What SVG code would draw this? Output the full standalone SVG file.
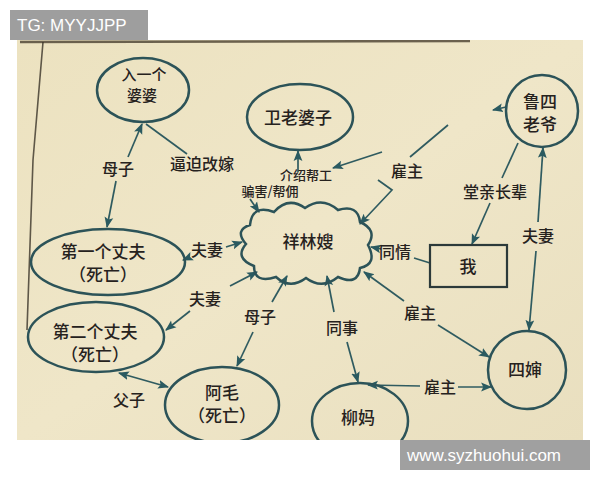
<svg xmlns="http://www.w3.org/2000/svg" width="600" height="480" viewBox="0 0 600 480">
<defs>
<linearGradient id="paper" x1="0" y1="0" x2="1" y2="1">
<stop offset="0" stop-color="#ece2c0"/>
<stop offset="0.5" stop-color="#efe6c8"/>
<stop offset="1" stop-color="#e9dfbf"/>
</linearGradient>
<clipPath id="photo"><rect x="17" y="40" width="566" height="400"/></clipPath>
<marker id="a" viewBox="0 0 10 10" refX="9" refY="5" markerWidth="11" markerHeight="11" markerUnits="userSpaceOnUse" orient="auto-start-reverse">
<path d="M0,1 L10,5 L0,9 L2,5 z" fill="#2a5a60"/>
</marker>
</defs>
<style>
.n{fill:none;stroke:#2c5358;stroke-width:2.5}
.c{fill:none;stroke:#2f5b60;stroke-width:1.7}
.t{font-family:"Noto Sans CJK SC","Noto Sans CJK JP",sans-serif;font-size:17px;font-weight:500;fill:#26221e;text-anchor:middle}
.l{font-family:"Noto Sans CJK SC","Noto Sans CJK JP",sans-serif;font-size:16px;font-weight:500;fill:#26221e;text-anchor:middle}
.s{font-family:"Noto Sans CJK SC","Noto Sans CJK JP",sans-serif;font-size:13px;font-weight:500;fill:#26221e;text-anchor:middle}
.wm{font-family:"Liberation Sans",Arial,sans-serif;font-size:17px;fill:#ffffff}
</style>
<rect x="0" y="0" width="600" height="480" fill="#ffffff"/>
<rect x="17" y="40" width="566" height="400" fill="url(#paper)"/>
<g clip-path="url(#photo)">
<path d="M20,42 L470,41" stroke="#4a4030" stroke-width="2.5" fill="none" opacity="0.8"/>
<path d="M43,42 L33,160 L27,330" stroke="#3a3328" stroke-width="1.6" fill="none" opacity="0.8"/>

<g id="connectors">
<line class="c" x1="128" y1="157" x2="142" y2="124" marker-end="url(#a)"/>
<line class="c" x1="116" y1="181" x2="107" y2="227" marker-end="url(#a)"/>
<line class="c" x1="187" y1="154" x2="146" y2="124"/>
<line class="c" x1="298" y1="172" x2="298" y2="151" marker-end="url(#a)"/>
<line class="c" x1="250" y1="199" x2="259" y2="212" marker-end="url(#a)"/>
<line class="c" x1="382" y1="152" x2="333" y2="168" marker-end="url(#a)"/>
<line class="c" x1="448" y1="125" x2="410" y2="157"/>
<polyline class="c" points="378,180 392,190 360,224" marker-end="url(#a)"/>
<line class="c" x1="506" y1="107" x2="493" y2="110" marker-end="url(#a)"/>
<line class="c" x1="518" y1="143" x2="502" y2="178"/>
<line class="c" x1="490" y1="203" x2="472" y2="244" marker-end="url(#a)"/>
<line class="c" x1="538" y1="222" x2="543" y2="148" marker-end="url(#a)"/>
<line class="c" x1="536" y1="251" x2="529" y2="330" marker-end="url(#a)"/>
<line class="c" x1="226" y1="247" x2="242" y2="242" marker-end="url(#a)"/>
<line class="c" x1="190" y1="257" x2="183" y2="260" marker-end="url(#a)"/>
<line class="c" x1="230" y1="286" x2="257" y2="272" marker-end="url(#a)"/>
<line class="c" x1="190" y1="311" x2="166" y2="330" marker-end="url(#a)"/>
<line class="c" x1="272" y1="302" x2="287" y2="276" marker-end="url(#a)"/>
<line class="c" x1="253" y1="332" x2="237" y2="366" marker-end="url(#a)"/>
<line class="c" x1="119" y1="373" x2="168" y2="387" marker-start="url(#a)" marker-end="url(#a)"/>
<line class="c" x1="334" y1="312" x2="327" y2="276" marker-end="url(#a)"/>
<line class="c" x1="347" y1="342" x2="358" y2="382" marker-end="url(#a)"/>
<line class="c" x1="404" y1="301" x2="364" y2="272" marker-end="url(#a)"/>
<line class="c" x1="438" y1="325" x2="489" y2="357" marker-end="url(#a)"/>
<line class="c" x1="420" y1="386" x2="368" y2="385" marker-end="url(#a)"/>
<line class="c" x1="458" y1="387" x2="491" y2="387" marker-end="url(#a)"/>
<line class="c" x1="381" y1="249" x2="371" y2="247" marker-end="url(#a)"/>
<line class="c" x1="414" y1="258" x2="430" y2="263"/>
</g>

<g id="n-popo">
<ellipse class="n" cx="143" cy="90" rx="46" ry="32"/>
<text class="s" x="144" y="80" style="font-size:15px">入一个</text>
<text class="s" x="142" y="101" style="font-size:15px">婆婆</text>
</g>
<g id="n-wei">
<ellipse class="n" cx="300" cy="117" rx="53" ry="33"/>
<text class="t" x="298" y="124">卫老婆子</text>
</g>
<g id="n-lu">
<circle class="n" cx="542" cy="111" r="36"/>
<text class="t" x="540" y="108">鲁四</text>
<text class="t" x="540" y="131">老爷</text>
</g>
<g id="n-xls">
<path class="n" d="M250,225 Q252,204 274,212 Q288,196 305,208 Q322,196 338,210 Q358,204 360,222 Q378,230 368,245 Q378,264 360,268 Q358,286 338,277 Q322,290 306,278 Q290,290 276,277 Q254,284 254,266 Q234,258 246,244 Q234,230 250,225 Z"/>
<text class="t" x="308" y="248">祥林嫂</text>
</g>
<g id="n-h1">
<ellipse class="n" cx="108" cy="262" rx="77" ry="33"/>
<text class="t" x="103" y="258">第一个丈夫</text>
<text class="t" x="103" y="281">（死亡）</text>
</g>
<g id="n-h2">
<ellipse class="n" cx="96" cy="337" rx="68" ry="35"/>
<text class="t" x="95" y="338">第二个丈夫</text>
<text class="t" x="95" y="361">（死亡）</text>
</g>
<g id="n-amao">
<ellipse class="n" cx="222" cy="405" rx="57" ry="38"/>
<text class="t" x="222" y="399">阿毛</text>
<text class="t" x="222" y="422">（死亡）</text>
</g>
<g id="n-liuma">
<ellipse class="n" cx="360" cy="421" rx="48" ry="38"/>
<text class="t" x="358" y="424">柳妈</text>
</g>
<g id="n-sishen">
<circle class="n" cx="527" cy="370" r="39"/>
<text class="t" x="525" y="376">四婶</text>
</g>
<g id="n-wo">
<rect x="430" y="245" width="77" height="42" fill="none" stroke="#2c3a3a" stroke-width="2.2"/>
<text class="t" x="468" y="273">我</text>
</g>

<g id="labels">
<text class="l" x="118" y="175">母子</text>
<text class="l" x="202" y="170">逼迫改嫁</text>
<text class="s" x="306" y="180">介绍帮工</text>
<text class="s" x="270" y="196">骗害/帮佣</text>
<text class="l" x="407" y="177">雇主</text>
<text class="l" x="495" y="198">堂亲长辈</text>
<text class="l" x="538" y="242">夫妻</text>
<text class="l" x="207" y="256">夫妻</text>
<text class="l" x="395" y="258">同情</text>
<text class="l" x="205" y="305">夫妻</text>
<text class="l" x="260" y="323">母子</text>
<text class="l" x="342" y="334">同事</text>
<text class="l" x="420" y="319">雇主</text>
<text class="l" x="129" y="406">父子</text>
<text class="l" x="440" y="393">雇主</text>
</g>
</g>

<g id="watermarks">
<rect x="10" y="10" width="138" height="30" fill="#9e9e9e"/>
<text class="wm" x="17" y="31">TG: MYYJJPP</text>
<rect x="400" y="440" width="190" height="30" fill="#a0a0a0"/>
<text class="wm" x="407" y="461">www.syzhuohui.com</text>
</g>
</svg>
